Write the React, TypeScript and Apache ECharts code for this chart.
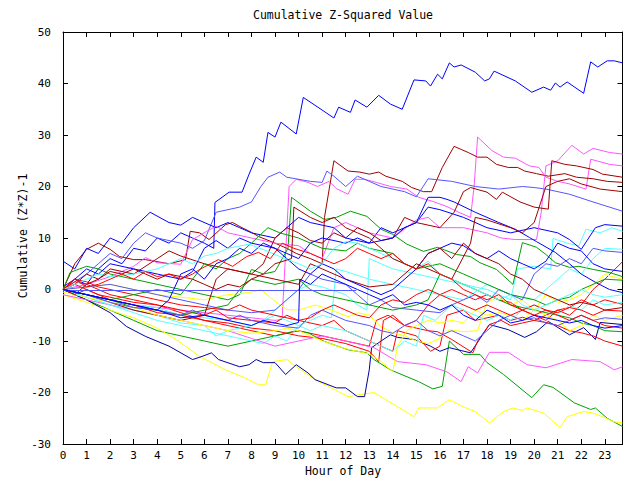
import React, { useEffect, useRef } from "react";
import * as echarts from "echarts";

// ---- axis definitions ----
const X_MIN = 0;
const X_MAX = 23.75;
const Y_MIN = -30;
const Y_MAX = 50;
const TITLE = "Cumulative Z-Squared Value";
const X_NAME = "Hour of Day";
const Y_NAME = "Cumulative (Z*Z)-1";

// ---- colours ----
const RED = "#ff0000";
const GREEN = "#00a000";
const BLUE = "#0000ff";
const MAGENTA = "#ff55ff";
const CYAN = "#55ffff";
const DARKRED = "#a00000";
const YELLOW = "#ffff00";
const SLATE = "#5555ff";
const NAVY = "#0000a0";

// ---- series data: [hour, cumulative value] ----
const blueTop = [[0,0.5],[0.5,2],[1,1],[1.5,4],[2,6],[2.5,5],[3,8],[3.5,7.5],[4,10],[4.5,9],[5,11],[5.5,10],[6,9],[6.4,8],[6.45,16.9],[7.05,18.9],[7.6,18.9],[7.9,22.4],[8.2,25.7],[8.5,24.7],[8.7,30.5],[9,29.6],[9.25,32.5],[9.9,30.2],[10.2,37.3],[11.5,33.3],[11.7,35.4],[12.2,34.4],[12.4,36.8],[12.9,35.4],[13.4,37.7],[13.9,36],[14.4,35],[14.9,40.7],[15.4,40.5],[15.6,39.5],[15.9,41.8],[16.1,40.9],[16.4,44],[16.6,43.2],[16.9,43.6],[17.5,42.2],[17.9,40.5],[18.1,40.9],[18.3,42.4],[19.2,40.5],[19.9,38.3],[20.4,39.3],[20.7,38.7],[20.9,40.1],[21.1,39.3],[21.4,40.3],[22.1,38.1],[22.4,44.2],[22.7,43.2],[23.1,44.4],[23.4,44.4],[23.75,44]];
const magenta1 = [[0,0],[1,-1],[2,-2],[3,-3],[4,-3.5],[5,-4],[6,-4.5],[7,-5],[8,-5.5],[9,-6],[9.3,-5.8],[9.6,20],[9.9,21.4],[10.4,20.8],[10.8,20],[11.3,21],[11.6,19.6],[12.1,18.5],[12.4,21.4],[12.8,21.4],[13.3,20.8],[13.9,20],[14.6,19.5],[15.1,17.9],[15.7,17.1],[16.3,16.1],[16.8,15],[17.3,14],[17.45,20],[17.6,29.6],[18.2,27],[18.7,25.7],[19.2,25.5],[19.8,24],[20.2,23.7],[20.5,21.8],[21,21],[21.5,20.5],[22.2,19.5],[22.4,25.3],[23.2,24.3],[23.75,24]];
const magenta2 = [[0,0],[1,1],[2,2.5],[3,4.5],[3.5,6.2],[4,5.2],[5,4.9],[5.5,9.7],[6.1,11.3],[6.5,12.3],[7,11],[8,10],[9,9],[10,8.5],[10.5,7],[11,6],[11.5,12],[12,13],[12.5,12],[13,11],[14,10],[15,13.5],[15.5,14],[16,12],[17,12],[18,11],[18.6,10],[19.2,9.7],[20.1,9.7],[20.3,15],[20.5,24],[21,25],[21.6,28],[22.1,26.3],[22.5,27.4],[23.2,26.6],[23.75,26.3]];
const darkred1 = [[0,0],[0.5,5],[1,7.8],[1.5,9],[2,7.8],[2.4,6.4],[3,5.8],[3.5,5.8],[4.5,5],[5.2,5.8],[5.4,11.3],[5.8,11],[6.2,9.7],[6.9,12.6],[7.2,13],[7.6,12],[8,11.1],[8.3,10.3],[9,9],[9.5,8],[9.9,7],[10.5,6],[11,5],[11.1,14],[11.5,25],[12.1,23],[12.6,22.8],[13,22.4],[13.4,22.8],[13.7,22],[14.4,21],[14.8,19.8],[15.3,19],[15.65,19],[16.1,23.7],[16.6,27.8],[16.9,27.2],[17.2,26.6],[17.6,25.7],[18,25.7],[18.4,24.3],[18.9,23.7],[19.3,23.7],[19.6,23],[20.1,22.5],[20.6,22],[21.3,22.5],[21.8,21.8],[22.5,21.5],[23.1,21],[23.75,20.8]];
const darkred2 = [[0,0],[0.5,1],[1,3],[1.5,2],[2,4],[3,3],[4,6],[4.5,7.5],[5,6.5],[6,5],[7,4],[8,3],[8.5,5],[9,10],[9.5,12],[10,11],[10.5,9.5],[11,9],[11.5,11],[12,10],[12.5,12],[13,11],[13.5,9.5],[14,10],[14.5,14],[15,13],[16,12],[16.6,15],[17,19],[17.3,19.8],[18,18.9],[18.4,17.5],[18.65,18.9],[19.4,17],[20,16],[20.6,15.6],[20.75,25],[21.3,24.3],[21.8,24],[22.5,23.3],[22.9,22.4],[23.75,21.8]];
const darkred3 = [[0,0],[1,-1],[2,-2.5],[3,-4],[4,-5],[5,-6],[6,-5],[6.5,2],[7,4],[8,3],[9,2],[10,1],[10.5,5],[11,4],[12,2],[13,0.5],[14,1],[15,5],[16,3],[16.5,2],[17.3,9],[17.5,14],[18,13.5],[19,12],[19.5,11],[20,13],[20.5,20],[21,21],[21.5,21.5],[22,20.5],[22.8,19.5],[23.75,19]];
const darkred4 = [[0,0],[0.5,-1],[1,1],[1.5,2],[2,3.5],[2.5,3],[3,4],[3.5,3],[4,2],[4.5,3],[5,2.5],[5.5,2],[6,1],[6.5,0],[7,1],[7.5,0.5],[8,2],[8.5,3],[9,5],[9.7,6],[9.8,16],[10.5,14],[11,13],[11.5,14],[12,12],[12.5,11],[13,10],[13.5,8],[14,6],[14.5,5],[15,4],[15.5,7],[16,8],[16.5,6],[17,9],[17.5,7],[18,6],[18.5,5],[19,3],[19.5,2],[20,0],[20.5,-1],[21,-2],[21.5,-3],[22,-2.5],[22.5,-3],[23,-4],[23.75,-3.5]];
const slate1 = [[0,0],[0.5,1.5],[1,3],[1.5,5],[2,7],[2.5,6],[3,9],[3.5,11],[4,10],[4.5,9.5],[5,9],[5.5,8],[6,9.5],[6.5,15],[7.5,16],[8,17],[8.4,20],[8.7,21.8],[9.2,22.8],[9.5,21.8],[10.5,21],[11,20.8],[11.2,23],[11.5,22],[12,20],[12.5,22],[13,21],[13.5,20],[14.5,19],[15,18],[15.5,21.5],[16.5,21],[17.5,20],[18.5,19.5],[19.5,20],[20,19.8],[20.5,19.5],[21.5,18.5],[22.5,17],[23.75,15.2]];
const blue2 = [[0,5.5],[0.5,4],[1,8],[1.5,7],[2,10],[2.5,9],[3,12],[3.7,15],[4.5,13],[5,12.5],[5.5,14],[6.5,12],[7,13],[7.5,12],[8,11],[9,10],[9.5,12],[10,14],[10.5,13],[11.5,12],[12,10],[13,9],[13.5,12],[14,11],[15,13],[15.5,16],[16,15.5],[17,14],[18,12],[19,11],[20,12],[21,11],[21.5,9.7],[22,7.8],[22.6,12],[23,12.6],[23.75,12.3]];
const blue3 = [[0,0],[0.5,2],[1,4],[1.5,3],[2,5],[3,4],[4,3],[5,2],[5.5,3.5],[6,8],[6.5,9.5],[7,8],[7.5,10],[8,9],[9,8],[9.5,7],[10,6],[10.5,9],[11,10],[12,9],[12.5,10],[13,9],[14,10],[14.5,12],[15,13],[15.5,17.9],[16,17.9],[16.3,17.5],[16.6,17],[17.5,15],[18.5,13],[19.2,11.7],[19.8,10.1],[20.1,9.3],[20.9,7.2],[21.5,5],[22,3],[22.6,1.4],[23.2,0],[23.75,-0.6]];
const blue4 = [[0,0],[1,-1],[2,-2],[3,-3],[4,-4],[4.5,-2],[5,3],[5.5,4],[6,2],[6.5,5],[7,6],[7.5,8],[8,7],[8.5,9],[9,8],[9.5,6],[10,4],[10.5,3],[11,5],[11.5,4],[12,2],[13,0],[13.5,-1],[14,0],[15,4],[15.5,7],[16,8],[16.5,9],[17,8.5],[17.5,7],[18,6],[18.5,7.5],[19,6],[19.5,5],[20,4],[20.5,5.5],[21,9],[21.5,8],[22,7.5],[22.5,5],[23,4],[23.75,3.5]];
const blue5 = [[0,0],[1,-1],[2,-2],[3,-3],[4,-4],[5,-5.5],[6,-5],[7,-6],[8,-7],[8.5,-6],[9,-6.5],[9.5,-7],[10,-6.4],[10.05,2],[10.5,1],[11,3],[11.5,2],[12,1],[12.5,0],[13,-1],[13.5,-2],[14,-1],[14.5,-3],[15,-2.5],[15.5,-3],[16,-4],[16.5,-3],[17,-5],[17.5,-6],[18,-4],[18.5,-5],[19,-6.5],[19.5,-6],[20,-5],[20.5,-5.5],[21,-6],[21.5,-6.5],[22,-6],[22.5,-7],[23,-7.5],[23.75,-7]];
const cyan1 = [[0,0],[1,-1],[2,-2],[3,-3],[4,-3.5],[5,-5],[6,-5.5],[7,-6],[8,-7],[8.5,-6],[9,-4],[9.5,-2],[10,0],[10.5,1],[11,0.5],[12,-1],[12.5,-3],[12.9,-4],[13,6],[13.5,5],[14,4],[15,3],[16,2],[17,1],[18,0],[18.5,-1],[19,-2],[19.3,4],[20,4.5],[20.7,4],[20.8,9.9],[21.4,9],[21.9,8.5],[22.2,11.7],[22.8,11],[23.3,12],[23.75,11.3]];
const cyan2 = [[0,0],[1,-1.5],[2,-3],[3,-4.5],[4,-6],[5,-7],[6,-8],[7,-9],[8,-10],[8.5,-10.5],[9,-9],[9.5,-10],[10,-7],[10.5,-6],[11,-5],[11.4,-5.5],[11.6,4],[12,3.5],[13,2],[14,1],[15,0],[16,-1],[17,-2],[18,1],[18.5,0],[19,-1],[20,-2],[20.5,0],[21,2],[21.5,4],[22,3],[22.5,6],[23,8],[23.75,7.8]];
const cyan3 = [[0,0],[1,-1.5],[2,-3],[3,-4],[4,-5],[5,-6.5],[6,-7],[6.5,-9],[7,-8],[8,-7],[8.5,-6],[9,-5],[9.5,-6],[10,-7],[10.5,-8],[11,-7],[12,-8],[12.5,-9],[13,-10],[13.5,-11],[14,-12],[14.5,-10],[15,-11],[15.3,-5],[15.8,-6],[16.5,-3],[17,-4],[17.5,-5],[18,-6],[18.5,-5],[19,-6],[19.5,-4],[20,-3],[20.5,-4],[21,-5],[21.5,-3],[22,-4],[22.5,-2],[23,-3],[23.75,-2.5]];
const cyan4 = [[0,0],[0.5,1],[1,2],[1.5,3],[2,2.5],[3,3],[4,4],[4.5,5],[5,6],[5.5,5],[6,6.5],[6.5,7],[7,8],[7.9,8.8],[8.7,7.4],[9.2,6.4],[10,5],[10.5,4],[11,5],[11.5,8],[12,9.3],[12.5,9],[13,8],[13.5,7],[14,6],[14.5,5],[15,4],[15.5,5.5],[16,3],[16.5,2],[17,1],[17.5,0],[18,-1],[18.5,-2],[19,-1],[19.5,-3],[20,-4],[20.5,-3],[21,-2],[21.5,-1],[22,0],[22.5,-1],[23,-1.5],[23.75,-1]];
const slate2 = [[0,0],[1,0.5],[2,1],[3,0],[4,-1],[5,-2],[6,-3],[7,-4],[8,-4.5],[9,-4],[9.5,-2],[10,0],[10.5,3],[11,2],[12,1],[12.5,-1],[13,-3],[13.5,-2],[14,-3.5],[15,-4],[16,-4.5],[16.5,-3],[17,-2],[17.5,-1],[18,-2.5],[18.5,0],[19,-1],[19.5,-2],[20,3],[20.5,5],[21,4.5],[21.5,6],[22,5],[22.5,8],[23,7.5],[23.75,7.2]];
const slate3 = [[0,0],[1,-1],[2,-2.5],[3,-3.5],[4,-4],[5,-5],[5.5,-4],[6,-5],[7,-6],[7.5,-5],[8,-6],[9,-7],[10,-7.5],[10.5,-5],[11,-4],[11.5,-5],[12,-6],[13,-7],[13.5,-8],[14,-8.5],[14.5,-7],[15,-6],[15.5,-8],[16,-9],[16.5,-8],[17,-9],[17.5,-10],[18,-8],[18.5,-6],[19,-5],[19.5,-6],[20,-5.5],[20.5,-6.5],[21,-7],[21.5,-6],[22,-5],[22.5,-6],[23,-5.5],[23.75,-5.8]];
const slateFlat = [[0,-0.2],[12.45,-0.2]];
const red1 = [[0,0],[0.5,1],[1,0],[1.5,-1],[2,-1.5],[3,-2.5],[4,-3],[5,-4.5],[6,-6],[7,-7],[8,-8],[9,-9],[10,-8],[11,-9],[12,-10],[13,-11],[13.3,-6],[13.8,-5],[14.5,-7],[15,-6],[15.5,-3],[16,-1],[16.5,0],[17,-1],[17.5,-2],[18,-1],[18.5,-2],[19,-2.5],[19.5,-4],[20,-5],[20.5,-6],[21,-4],[21.5,-5],[22,-3],[22.5,0],[23,2],[23.75,5.4]];
const red2 = [[0,0],[0.5,1.5],[1,1],[1.5,0],[2,-1],[3,-2],[4,-3],[5,-4],[6,-5],[6.5,-4],[7,-5.5],[8,-6],[9,-6.5],[9.5,-5],[10,-6],[11,-7],[11.5,-6],[12,-8],[12.5,-9],[13,-10],[14,-12],[14.2,-8],[15,-9],[15.6,-12],[16,-11],[16.3,-5],[17,-4],[17.5,-6],[18,-5.5],[18.5,-5],[19,-6],[19.5,-5.4],[20,-6],[20.5,-5],[21,-4],[21.5,-3.5],[22,-2],[22.5,-3],[23,-2],[23.75,-2.9]];
const red3 = [[0,0],[0.5,-1],[1,0],[1.5,-1],[2,-2],[3,-3],[4,-4.5],[5,-5],[6,-6],[7,-6.5],[8,-7.5],[9,-8],[10,-9],[11,-9.5],[12,-10.5],[13,-12],[13.4,-14],[13.6,-6],[14,-5],[14.5,-7],[15,-7.5],[15.5,-8],[15.9,-8.2],[16.5,-9.7],[17.4,-12.3],[17.6,-10],[18.1,-6.8],[18.6,-6],[19,-7],[19.5,-6.5],[20,-6],[20.6,-6.5],[21,-7],[21.5,-8],[22,-8.4],[22.5,-9],[23,-10],[23.75,-11]];
const red4 = [[0,0],[0.5,2],[1,1.5],[1.5,0.5],[2,0],[3,-1],[4,-2],[5,-3],[6,-3.5],[7,-4],[7.5,-3],[8,-4],[9,-5],[10,-6],[10.5,-5.5],[11,-4],[11.5,-3],[12,-4],[12.5,-5],[13,-5.5],[13.5,-3],[14,-2],[14.5,-2.5],[15,-1],[15.5,0],[16,-1],[16.5,-2],[17,-3],[17.5,-4],[18,-3],[18.5,-4],[19,-5],[19.5,-4],[20,-3],[20.5,-4],[21,-4.5],[21.5,-3.5],[22,-4],[22.5,-5],[23,-4],[23.75,-4.2]];
const red5 = [[0,0],[0.5,2],[1,0.5],[1.5,1],[2,2],[2.5,3],[3,2],[3.5,3.5],[4,2.5],[4.5,3],[5,2],[5.5,3],[5.8,3.9],[6.6,5.8],[7.2,4.5],[7.8,6.4],[8.3,7.2],[8.8,6],[9.3,9],[9.8,8],[10.5,7],[11,6],[11.5,5],[12,6],[12.5,8],[13,7],[13.5,6],[14,7],[14.5,5],[15,4],[15.5,5],[16,3],[16.5,2],[17,0],[17.5,-1],[18,-2],[18.5,-1],[19,-3],[19.5,-4],[20,-5],[20.5,-4],[21,-5],[21.5,-6],[22,-5],[22.5,-6],[23,-7],[23.75,-7.5]];
const green1 = [[0,0],[0.3,3.3],[0.7,4],[1,4.5],[1.5,4],[2,3],[3,2],[4,1],[5,0],[6,-1],[7,-2],[7.5,-1],[8,3.9],[8.5,3],[9,3.5],[9.55,8],[9.7,17.9],[10.5,15.2],[11.1,13.6],[11.6,14],[12.2,15.2],[12.9,14.2],[13.5,11.7],[14,10.7],[14.6,8.8],[15.3,7.4],[15.9,8.2],[16.7,6.8],[17.3,6.4],[17.7,5.2],[18.4,3.9],[19.1,1],[19.5,9.1],[20.1,8.2],[20.5,6.8],[20.9,5.2],[21.5,4.3],[21.9,4.5],[22.5,3.9],[23.2,3.3],[23.75,2.5]];
const green2 = [[0,0],[1,-1],[2,-2],[3,-3.5],[4,-4],[5,-5],[6,-4],[7,-3],[7.5,0],[8,2],[9,1],[10,2],[10.5,0],[11,-1],[12,-2],[13,-3],[14,-4],[15,-3],[15.5,-2],[16,3],[16.5,2],[17,1],[17.5,0],[18,-1],[18.5,-2],[19,-3],[20,-4],[20.5,-4.5],[21,-5],[21.5,-5.5],[22,-6.5],[22.5,-7],[23,-8],[23.75,-8.2]];
const green3 = [[0,0],[1,-2],[2,-4],[3,-6],[4,-8],[5,-9],[6,-10],[7,-11],[8,-10],[9,-9],[9.9,-8],[10.4,-8.4],[11.1,-10.1],[12.1,-11.7],[12.9,-12.3],[13.2,-13.6],[13.9,-15.6],[15.1,-17.9],[15.7,-19.3],[16.1,-18.8],[16.4,-10],[17,-12.6],[17.7,-12.6],[18,-14.2],[18.7,-16.5],[19.9,-21],[20.4,-18.5],[20.8,-19],[21.7,-22],[22.4,-23.3],[22.6,-23],[23.1,-25],[23.75,-26.6]];
const green4 = [[0,0],[1,-1],[2,-2],[3,-1],[4,0],[5,-1],[5.5,2],[6,5],[6.5,4],[7,6],[7.5,7],[8,9],[8.3,10.3],[8.7,12],[9.2,11],[10,10],[10.5,9],[11,8],[12,7.5],[12.5,9],[13,8],[14,7],[14.5,5],[15,4],[16,5],[16.5,4],[17,3],[18,1],[18.5,0],[19,-1],[20,-2],[20.5,-3],[21,-2],[21.5,-1.5],[22,0],[22.5,1],[23,2],[23.75,1.8]];
const navy1 = [[0,0],[1,-2],[2,-4.5],[2.7,-7.2],[3.5,-9.1],[4.5,-11],[5.5,-13.6],[5.9,-13],[6.3,-12.3],[6.6,-13.6],[7.5,-15],[7.9,-14.6],[8.2,-13.6],[8.5,-14.2],[9,-14.2],[9.45,-16.5],[9.9,-14.6],[10.4,-16.2],[10.7,-17.5],[11.6,-19.1],[12,-19.1],[12.5,-20.8],[12.8,-20.8],[13,-15.6],[13.1,-11.3],[13.5,-10],[13.9,-8.8],[14.2,-9.3],[14.9,-9.7],[15.6,-11],[16,-12],[16.4,-11.3],[17.3,-12.3],[18.1,-6.8],[18.9,-7.8],[19.6,-9.3],[20.1,-8.2],[20.6,-6.2],[21.5,-8.8],[22.1,-7.4],[22.6,-9.7],[22.8,-6.4],[23.75,-6.8]];
const magenta3 = [[0,-1],[2,-3],[4,-5],[6,-7],[7,-8],[8,-9.5],[9,-11],[10,-10],[11,-9],[12,-10],[13.2,-11.3],[14.2,-14],[15.4,-14.6],[16.3,-16],[16.9,-17.9],[17.2,-15],[17.6,-16.2],[18.1,-12.2],[18.9,-12.2],[19.7,-14.6],[20.5,-15.2],[21.6,-13.6],[22.8,-14],[23.4,-15.6],[23.75,-15]];
const yellow1 = [[0,-1],[1,-2.5],[2,-4],[3,-5.5],[4,-7.5],[4.8,-9.7],[5.8,-13],[6.9,-15.6],[7.7,-17.1],[8.3,-18.5],[8.6,-18.5],[8.9,-14],[9.5,-13.6],[9.9,-15],[10.7,-17.5],[12.1,-20.8],[13.2,-20],[13.7,-21.4],[14.9,-24.7],[15.1,-23],[15.9,-23],[16.4,-21.4],[17,-22.8],[17.5,-23.7],[18.1,-25.9],[18.7,-23.7],[19.1,-23],[19.5,-23.5],[19.7,-23],[20.4,-24],[21.1,-26.8],[21.4,-24.7],[22.1,-23.7],[22.5,-24],[22.9,-24.7],[23.4,-25.7],[23.75,-25.9]];
const yellow2 = [[0,0],[1,0.5],[2,1],[3,0],[4,-1],[5,-1.5],[6,-2],[7,-1],[7.9,-0.6],[8.4,0],[9,-2.3],[9.5,-3.9],[10,-4],[10.7,-3],[11.4,-4],[12.1,-5.3],[12.5,-4.5],[13,-5],[13.5,-7.2],[14,-8.4],[14.5,-9],[15,-10],[15.5,-10.5],[15.9,-9.7],[16.4,-7.8],[17,-8.2],[17.6,-8],[18,-2.5],[18.5,-1.5],[19,-3],[19.5,-2],[20,-4],[20.5,-1],[21,-2.5],[21.5,-2],[22,-1],[22.5,1],[23,2.9],[23.75,2]];
const yellow3 = [[0,-0.5],[1,-1.5],[2,-2.5],[3,-3.5],[4,-5],[5,-6],[6,-7],[7,-8],[8,-8.5],[9,-8],[9.5,-7.5],[10,-8],[10.4,-8.8],[11,-10],[12,-11.5],[12.5,-12],[13,-12.5],[13.5,-14],[14,-16],[14.2,-11],[14.6,-8],[15,-7],[15.5,-6],[16,-6.5],[16.5,-6],[17,-6.5],[17.5,-4],[18,-5],[18.5,-4.5],[19,-5],[19.5,-6],[20,-4],[20.5,-5],[21,-6],[21.5,-8],[22,-7],[22.5,-5],[23,-6],[23.75,-5]];

const SERIES: [number[][], string][] = [
  [red1, RED], [green3, GREEN], [blueTop, BLUE], [magenta1, MAGENTA], [cyan1, CYAN], [darkred1, DARKRED], [yellow1, YELLOW], [slate1, SLATE], [navy1, NAVY],
  [red2, RED], [green1, GREEN], [blue2, BLUE], [magenta2, MAGENTA], [cyan2, CYAN], [darkred2, DARKRED], [yellow2, YELLOW], [slate2, SLATE],
  [red3, RED], [green2, GREEN], [blue3, BLUE], [magenta3, MAGENTA], [cyan3, CYAN], [darkred3, DARKRED], [yellow3, YELLOW], [slate3, SLATE],
  [red4, RED], [green4, GREEN], [blue4, BLUE], [cyan4, CYAN], [darkred4, DARKRED], [slateFlat, SLATE], [red5, RED], [blue5, BLUE],
];

const FONT = "DejaVu Sans Mono";

export default function App() {
  const ref = useRef<HTMLDivElement>(null);
  useEffect(() => {
    if (!ref.current) return;
    const chart = echarts.init(ref.current, undefined, { renderer: "svg" });
    const grid = { left: 63, top: 32, width: 559.5, height: 412 };
    const axisLine = { show: true, onZero: false, lineStyle: { color: "#000", width: 1 } };
    const tick = { show: true, inside: true, length: 5, lineStyle: { color: "#000", width: 1 } };
    chart.setOption({
      animation: false,
      backgroundColor: "#ffffff",
      grid,
      graphic: [
        { type: "text", x: 343, y: 15, style: { text: TITLE, font: `11.5px "${FONT}"`, fill: "#000", align: "center", verticalAlign: "middle" } },
        { type: "text", x: 343, y: 471, style: { text: X_NAME, font: `11.5px "${FONT}"`, fill: "#000", align: "center", verticalAlign: "middle" } },
        { type: "text", x: 23, y: 236, rotation: Math.PI / 2, style: { text: Y_NAME, font: `11.5px "${FONT}"`, fill: "#000", align: "center", verticalAlign: "middle" } },
      ],
      xAxis: [
        {
          type: "value", min: X_MIN, max: X_MAX, interval: 1, position: "bottom",
          axisLine, axisTick: tick, splitLine: { show: false },
          axisLabel: { show: true, showMaxLabel: false, color: "#000", fontFamily: FONT, fontSize: 11, margin: 6,
            formatter: (v: number) => (Number.isInteger(v) ? String(v) : "") },
        },
        {
          type: "value", min: X_MIN, max: X_MAX, interval: 1, position: "top",
          axisLine, axisTick: tick, splitLine: { show: false }, axisLabel: { show: false },
        },
      ],
      yAxis: [
        {
          type: "value", min: Y_MIN, max: Y_MAX, interval: 10, position: "left",
          axisLine, axisTick: tick, splitLine: { show: false },
          axisLabel: { show: true, color: "#000", fontFamily: FONT, fontSize: 11, margin: 12 },
        },
        {
          type: "value", min: Y_MIN, max: Y_MAX, interval: 10, position: "right",
          axisLine, axisTick: tick, splitLine: { show: false }, axisLabel: { show: false },
        },
      ],
      series: SERIES.map(([data, color]) => ({
        type: "line",
        xAxisIndex: 0,
        yAxisIndex: 0,
        data,
        showSymbol: false,
        symbol: "none",
        silent: true,
        lineStyle: { color, width: 1 },
        itemStyle: { color },
      })),
    });
    return () => chart.dispose();
  }, []);
  return <div ref={ref} style={{ position: "absolute", left: 0, top: 0, width: 640, height: 480, background: "#fff" }} />;
}
